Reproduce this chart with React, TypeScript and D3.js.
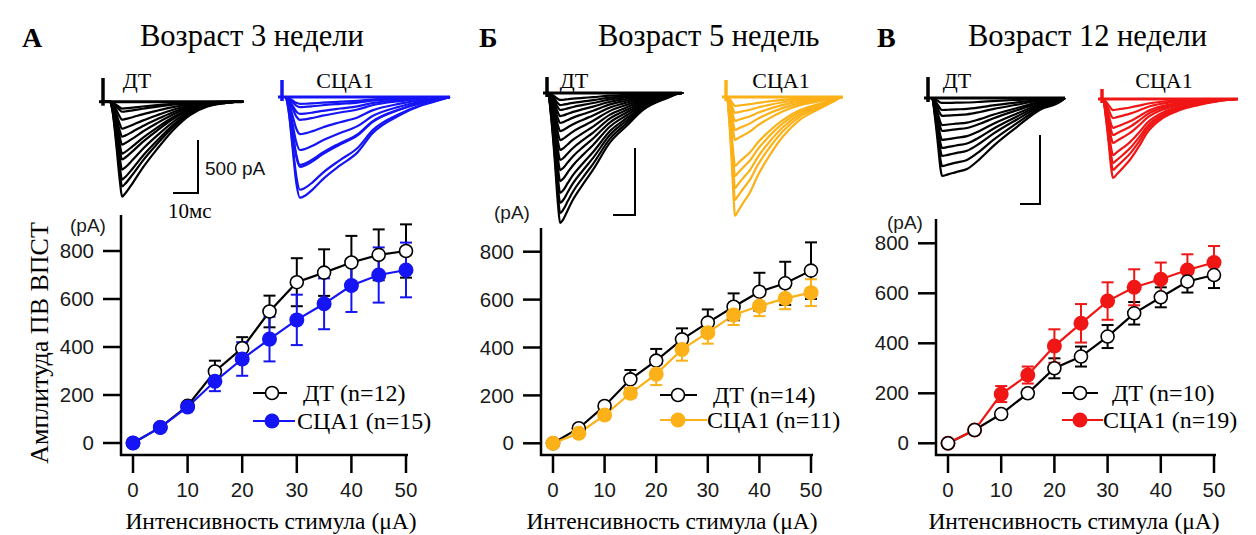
import React from "react";
import * as d3 from "d3";

// stimulus intensities (µA) shared by all panels
const stimulus = [0, 5, 10, 15, 20, 25, 30, 35, 40, 45, 50];
const xTicks = [0, 10, 20, 30, 40, 50];
const yTicks = [0, 200, 400, 600, 800];

// mean amplitude (pA) and error, 3 weeks
const dt3 = [0, 65, 155, 298, 395, 548, 670, 710, 752, 784, 800];
const dt3Err = [0, 8, 12, 45, 46, 66, 100, 97, 111, 106, 111];
const sca3 = [0, 65, 150, 257, 350, 433, 513, 580, 656, 700, 721];
const sca3Err = [0, 8, 12, 41, 70, 93, 105, 106, 110, 115, 114];

// 5 weeks
const dt5 = [0, 63, 156, 267, 345, 434, 504, 570, 633, 668, 721];
const dt5Err = [0, 8, 12, 39, 49, 46, 55, 56, 79, 90, 118];
const sca5 = [0, 42, 118, 209, 289, 392, 462, 536, 573, 605, 629];
const sca5Err = [0, 8, 15, 20, 46, 47, 46, 42, 42, 45, 56];

// 12 weeks
const dt12 = [0, 53, 117, 200, 300, 347, 427, 520, 584, 647, 673];
const dt12Err = [0, 8, 10, 15, 40, 40, 46, 45, 40, 44, 52];
const sca12 = [0, 53, 197, 273, 389, 480, 569, 624, 656, 693, 723];
const sca12Err = [0, 8, 32, 34, 67, 77, 75, 72, 67, 63, 66];

// example trace peak amplitudes (pA)
const traceDt3 = [65, 95, 170, 255, 330, 405, 490, 545, 640, 735, 800, 895];
const traceSca3 = [65, 95, 160, 215, 350, 500, 640, 660, 875, 950];
const traceDt5 = [52, 90, 127, 172, 224, 284, 351, 425, 500, 575, 657, 746, 821, 896, 970];
const traceSca5 = [67, 119, 179, 246, 321, 515, 590, 679, 769, 888];
const traceDt12 = [36, 87, 130, 196, 239, 304, 362, 420, 493, 565];
const traceSca12 = [80, 138, 210, 261, 319, 406, 464, 514, 572];

// normalised waveforms: time after onset (ms) and fraction of peak
const shapeDt3T = [0, 1, 2.5, 4, 4.8, 6, 9, 13, 18.8, 25.2, 32, 39, 46, 53];
const shapeDt3F = [0, 0.1, 0.45, 0.85, 1, 0.97, 0.86, 0.7, 0.5, 0.3, 0.14, 0.05, 0.015, 0];
const shapeSca3T = [0, 1.5, 3, 4.5, 6, 8, 11, 15, 22, 29, 35, 46, 55, 62, 66];
const shapeSca3F = [0, 0.15, 0.5, 0.85, 1, 0.98, 0.92, 0.82, 0.68, 0.55, 0.36, 0.18, 0.08, 0.03, 0];
const shapeDt5T = [0, 1.5, 3, 4.5, 5.5, 7, 9, 11.4, 16, 20.5, 28.2, 35.9, 43.2, 54, 61];
const shapeDt5F = [0, 0.2, 0.5, 0.85, 1, 0.97, 0.9, 0.82, 0.7, 0.59, 0.38, 0.25, 0.13, 0.04, 0];
const shapeSca5T = [0, 1, 2, 3, 3.6, 5, 7, 10.5, 14, 18.2, 25.5, 33.2, 40.9, 48.2, 52.7];
const shapeSca5F = [0, 0.2, 0.5, 0.85, 1, 0.96, 0.9, 0.8, 0.66, 0.525, 0.33, 0.19, 0.11, 0.04, 0];
const shapeDt12T = [0, 1.5, 3, 4.2, 5, 8, 12, 17.5, 24, 30.5, 42.5, 54, 64, 66.5];
const shapeDt12F = [0, 0.25, 0.6, 0.9, 1, 0.98, 0.95, 0.91, 0.78, 0.62, 0.37, 0.15, 0.05, 0];
const shapeSca12T = [0, 1.5, 3, 4.2, 5, 7, 10, 13.5, 18, 22, 30, 38.5, 47, 57, 67.5];
const shapeSca12F = [0, 0.25, 0.6, 0.9, 1, 0.95, 0.87, 0.77, 0.6, 0.43, 0.24, 0.14, 0.08, 0.03, 0];

const BLUE = "#1414f5";
const ORANGE = "#fbb117";
const RED = "#f01616";
const SERIF = "'Liberation Serif', 'Times New Roman', serif";
const SANS = "'Liberation Sans', Arial, sans-serif";

const panels = [
  {
    letter: "А", title: "Возраст 3 недели", letterX: 22, titleX: 140,
    color: BLUE, dt: dt3, dtErr: dt3Err, sca: sca3, scaErr: sca3Err,
    legend: ["ДТ (n=12)", "СЦА1 (n=15)"], dtOnTop: false,
    axisX: 121, x0: 133, x50: 406, y0: 443, y800: 251, axisTop: 215, axisRight: 408,
    pA: [88, 225], leg: { x1: 253, x2dt: 287, x2sca: 295, mx: 272, tdt: 303, tsca: 297, ydt: 393, ysca: 421 },
    xLabelX: 271, yLabel: true,
    traces: [
      { amps: traceDt3, t: shapeDt3T, f: shapeDt3F, color: "#000", base: 101.7, art: 103, artTop: 78, onset: 110, end: 242, msPx: 2.5, barPx: 53, label: "ДТ", labelX: 137 },
      { amps: traceSca3, t: shapeSca3T, f: shapeSca3F, color: BLUE, base: 97, art: 282, artTop: 80, onset: 285, end: 450, msPx: 2.5, barPx: 53, label: "СЦА1", labelX: 345 },
    ],
    bar: { x: 198, y: 193, h: 53, w: 25, text500: true, text10: true },
  },
  {
    letter: "Б", title: "Возраст 5 недель", letterX: 479, titleX: 598,
    color: ORANGE, dt: dt5, dtErr: dt5Err, sca: sca5, scaErr: sca5Err,
    legend: ["ДТ (n=14)", "СЦА1 (n=11)"], dtOnTop: false,
    axisX: 541, x0: 553, x50: 811, y0: 443.3, y800: 251.7, axisTop: 228, axisRight: 813,
    pA: [512, 212], leg: { x1: 660, x2dt: 697, x2sca: 707, mx: 678, tdt: 713, tsca: 707, ydt: 395, ysca: 420 },
    xLabelX: 672, yLabel: false,
    traces: [
      { amps: traceDt5, t: shapeDt5T, f: shapeDt5F, color: "#000", base: 93, art: 547, artTop: 77, onset: 548, end: 682, msPx: 2.2, barPx: 67, label: "ДТ", labelX: 574 },
      { amps: traceSca5, t: shapeSca5T, f: shapeSca5F, color: ORANGE, base: 97, art: 726, artTop: 80, onset: 727, end: 843, msPx: 2.2, barPx: 67, label: "СЦА1", labelX: 781 },
    ],
    bar: { x: 635, y: 215, h: 67, w: 22, text500: false, text10: false },
  },
  {
    letter: "В", title: "Возраст 12 недели", letterX: 877, titleX: 968,
    color: RED, dt: dt12, dtErr: dt12Err, sca: sca12, scaErr: sca12Err,
    legend: ["ДТ (n=10)", "СЦА1 (n=19)"], dtOnTop: true,
    axisX: 936, x0: 948, x50: 1214, y0: 443.3, y800: 243.3, axisTop: 219, axisRight: 1216,
    pA: [905, 222], leg: { x1: 1062, x2dt: 1098, x2sca: 1103, mx: 1080, tdt: 1112, tsca: 1103, ydt: 393, ysca: 420 },
    xLabelX: 1074, yLabel: false,
    traces: [
      { amps: traceDt12, t: shapeDt12T, f: shapeDt12F, color: "#000", base: 98, art: 928, artTop: 77, onset: 932, end: 1065, msPx: 2.0, barPx: 69, label: "ДТ", labelX: 957 },
      { amps: traceSca12, t: shapeSca12T, f: shapeSca12F, color: RED, base: 99, art: 1102, artTop: 89, onset: 1103, end: 1238, msPx: 2.0, barPx: 69, label: "СЦА1", labelX: 1164 },
    ],
    bar: { x: 1040, y: 204, h: 69, w: 20, text500: false, text10: false },
  },
];

function Traces({ tr }: any) {
  const x = d3.scaleLinear().domain([0, 10]).range([tr.onset, tr.onset + tr.msPx * 10]);
  const y = d3.scaleLinear().domain([0, 500]).range([tr.base, tr.base + tr.barPx]);
  const line = d3.line<[number, number]>().curve(d3.curveMonotoneX);
  return (
    <g>
      {tr.amps.map((a: number, i: number) => {
        const pts: [number, number][] = [[tr.art, tr.base]];
        tr.t.forEach((t: number, k: number) => pts.push([x(t), y(a * tr.f[k])]));
        pts.push([tr.end, tr.base]);
        return <path key={i} d={line(pts) || ""} fill="none" stroke={tr.color} strokeWidth={2.2} strokeLinejoin="round" />;
      })}
      <line x1={tr.art} x2={tr.art} y1={tr.artTop} y2={tr.base + 4} stroke={tr.color} strokeWidth={3.5} />
      <line x1={tr.art - 4} x2={tr.onset} y1={tr.base} y2={tr.base} stroke={tr.color} strokeWidth={3} />
      <line x1={tr.onset} x2={tr.end} y1={tr.base} y2={tr.base} stroke={tr.color} strokeWidth={3} />
      <text x={tr.labelX} y={88} textAnchor="middle" fontFamily={SERIF} fontSize={22} fill="#000">{tr.label}</text>
    </g>
  );
}

function Panel({ p }: any) {
  const x = d3.scaleLinear().domain([0, 50]).range([p.x0, p.x50]);
  const y = d3.scaleLinear().domain([0, 800]).range([p.y0, p.y800]);
  const axisY = 455;
  const lineGen = d3.line<number>().x((_, i) => x(stimulus[i])).y((d) => y(d));

  const errBars = (vals: number[], errs: number[], color: string) =>
    vals.map((v, i) => (
      <g key={i} stroke={color} strokeWidth={2}>
        <line x1={x(stimulus[i])} x2={x(stimulus[i])} y1={y(v - errs[i])} y2={y(v + errs[i])} />
        <line x1={x(stimulus[i]) - 6} x2={x(stimulus[i]) + 6} y1={y(v + errs[i])} y2={y(v + errs[i])} />
        <line x1={x(stimulus[i]) - 6} x2={x(stimulus[i]) + 6} y1={y(v - errs[i])} y2={y(v - errs[i])} />
      </g>
    ));
  const dtMarks = p.dt.map((v: number, i: number) => (
    <circle key={"d" + i} cx={x(stimulus[i])} cy={y(v)} r={6.5} fill="#fff" stroke="#000" strokeWidth={1.6} />
  ));
  const scaMarks = p.sca.map((v: number, i: number) => (
    <circle key={"s" + i} cx={x(stimulus[i])} cy={y(v)} r={7.5} fill={p.color} />
  ));

  return (
    <g>
      <text x={p.letterX} y={47} fontFamily={SERIF} fontWeight="bold" fontSize={28} fill="#000">{p.letter}</text>
      <text x={p.titleX} y={46} fontFamily={SERIF} fontSize={30.5} fill="#000">{p.title}</text>

      {p.traces.map((tr: any, i: number) => <Traces key={i} tr={tr} />)}
      <path d={`M${p.bar.x},${p.bar.y - p.bar.h}V${p.bar.y}H${p.bar.x - p.bar.w}`} fill="none" stroke="#000" strokeWidth={2} />
      {p.bar.text500 && <text x={p.bar.x + 7} y={p.bar.y - 25} dy="0.35em" fontFamily={SANS} fontSize={19} fill="#111">500 pA</text>}
      {p.bar.text10 && <text x={p.bar.x - 30} y={218} fontFamily={SERIF} fontSize={21} fill="#000">10мс</text>}

      {/* axes */}
      <line x1={p.axisX} x2={p.axisX} y1={p.axisTop} y2={axisY + 1} stroke="#000" strokeWidth={2.5} />
      <line x1={p.axisX - 1} x2={p.axisRight} y1={axisY} y2={axisY} stroke="#000" strokeWidth={2.5} />
      {yTicks.map((t) => (
        <g key={t}>
          <line x1={p.axisX - 18} x2={p.axisX} y1={y(t)} y2={y(t)} stroke="#000" strokeWidth={2.5} />
          <text x={p.axisX - 27} y={y(t)} dy="0.35em" textAnchor="end" fontFamily={SANS} fontSize={20.5} fill="#1a1a1a">{t}</text>
        </g>
      ))}
      {xTicks.map((t) => (
        <g key={t}>
          <line x1={x(t)} x2={x(t)} y1={axisY} y2={axisY + 18} stroke="#000" strokeWidth={2.5} />
          <text x={x(t)} y={490} dy="0.35em" textAnchor="middle" fontFamily={SANS} fontSize={20.5} fill="#1a1a1a">{t}</text>
        </g>
      ))}
      <text x={p.pA[0]} y={p.pA[1]} dy="0.35em" textAnchor="middle" fontFamily={SANS} fontSize={19} fill="#1a1a1a">(pA)</text>
      <text x={p.xLabelX} y={529} textAnchor="middle" fontFamily={SERIF} fontSize={23.5} fill="#000">Интенсивность стимула (μA)</text>
      {p.yLabel && (
        <text transform="translate(48,343) rotate(-90)" textAnchor="middle" fontFamily={SERIF} fontSize={26} fill="#000">Амплитуда ПВ ВПСТ</text>
      )}

      {/* series */}
      <path d={lineGen(p.dt) || ""} fill="none" stroke="#000" strokeWidth={2.2} />
      <path d={lineGen(p.sca) || ""} fill="none" stroke={p.color} strokeWidth={2.2} />
      {errBars(p.dt, p.dtErr, "#000")}
      {errBars(p.sca, p.scaErr, p.color)}
      {p.dtOnTop ? <g>{scaMarks}{dtMarks}</g> : <g>{dtMarks}{scaMarks}</g>}

      {/* legend */}
      <line x1={p.leg.x1} x2={p.leg.x2dt} y1={p.leg.ydt} y2={p.leg.ydt} stroke="#000" strokeWidth={2.2} />
      <circle cx={p.leg.mx} cy={p.leg.ydt} r={6.5} fill="#fff" stroke="#000" strokeWidth={1.6} />
      <text x={p.leg.tdt} y={p.leg.ydt} dy="0.35em" fontFamily={SERIF} fontSize={24} fill="#000">{p.legend[0]}</text>
      <line x1={p.leg.x1} x2={p.leg.x2sca} y1={p.leg.ysca} y2={p.leg.ysca} stroke={p.color} strokeWidth={2.2} />
      <circle cx={p.leg.mx} cy={p.leg.ysca} r={7.5} fill={p.color} />
      <text x={p.leg.tsca} y={p.leg.ysca} dy="0.35em" fontFamily={SERIF} fontSize={24} fill="#000">{p.legend[1]}</text>
    </g>
  );
}

export default function App() {
  return (
    <svg width={1256} height={535} style={{ position: "absolute", left: 0, top: 0, background: "#fff" }}>
      <rect width={1256} height={535} fill="#fff" />
      {panels.map((p, i) => <Panel key={i} p={p} />)}
    </svg>
  );
}
